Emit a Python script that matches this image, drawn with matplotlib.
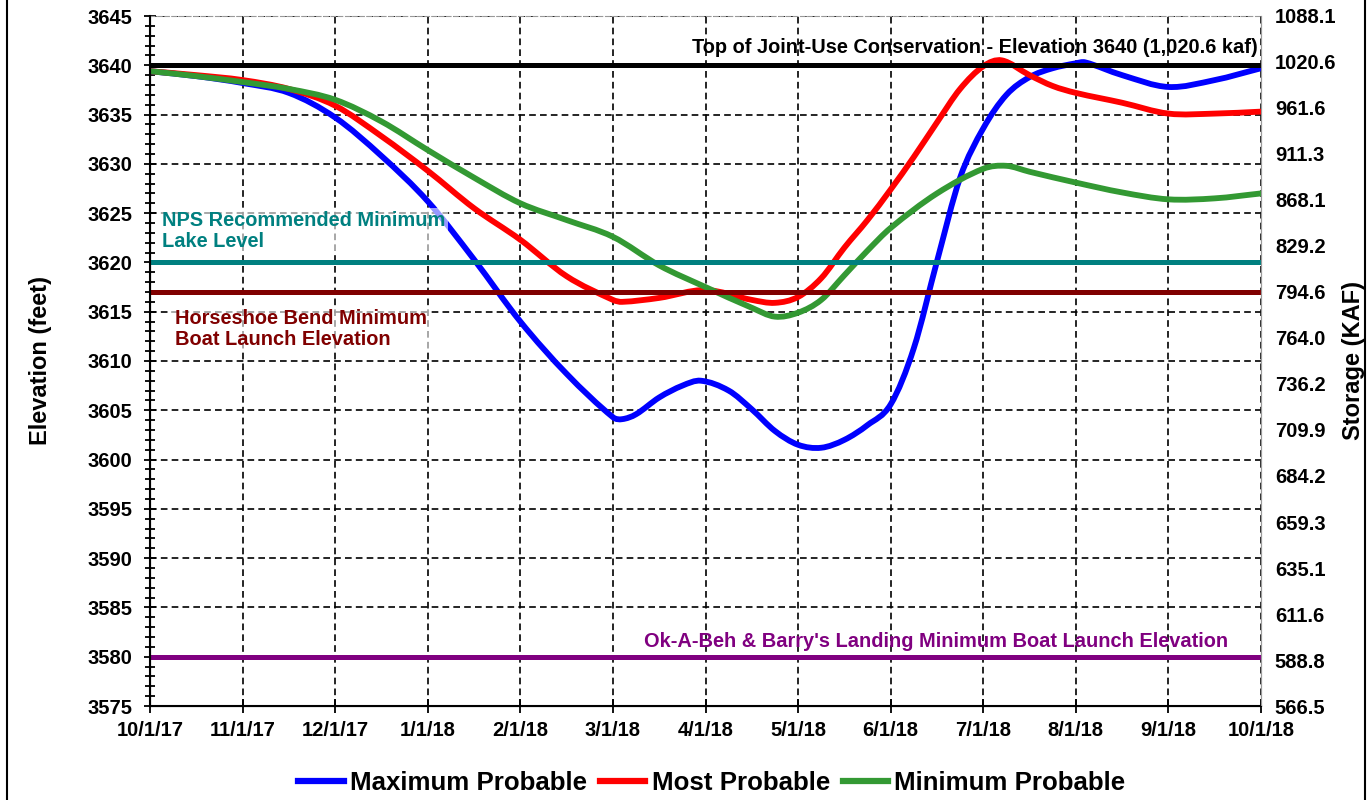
import matplotlib
matplotlib.use('Agg')
import matplotlib.pyplot as plt
from matplotlib.lines import Line2D
from matplotlib.path import Path
from matplotlib.patches import PathPatch
from matplotlib.ticker import MultipleLocator

plt.rcParams['font.family'] = ['Liberation Sans', 'DejaVu Sans']
plt.rcParams['font.weight'] = 'bold'

# month labels (evenly spaced category positions 0..12)
months = ['10/1/17', '11/1/17', '12/1/17', '1/1/18', '2/1/18', '3/1/18', '4/1/18',
          '5/1/18', '6/1/18', '7/1/18', '8/1/18', '9/1/18', '10/1/18']

# elevation readings (x = month position)
max_x = [0, 0.5, 1, 1.5, 2, 2.5, 3, 3.5, 4, 4.5, 5, 5.1, 5.25, 5.5, 5.75, 5.95, 6.25, 6.5,
         6.75, 7, 7.25, 7.5, 7.75, 8, 8.25, 8.5, 8.75, 9, 9.25, 9.5, 9.75, 10, 10.1, 10.5,
         11, 11.5, 12]
max_y = [3639.4, 3638.9, 3638.2, 3637.2, 3634.7, 3630.8, 3626.2, 3620.3, 3614.0, 3608.7,
         3604.3, 3604.1, 3604.6, 3606.3, 3607.5, 3608.0, 3607.0, 3605.1, 3602.9, 3601.5,
         3601.2, 3602.0, 3603.5, 3605.6, 3611.3, 3620.1, 3628.6, 3633.6, 3637.0, 3638.8,
         3639.7, 3640.2, 3640.3, 3639.0, 3637.8, 3638.5, 3639.7]

most_x = [0, 0.5, 1, 1.5, 2, 2.5, 3, 3.5, 4, 4.5, 5, 5.1, 5.5, 6, 6.5, 6.75, 7, 7.25, 7.5,
          7.75, 8, 8.25, 8.5, 8.75, 9, 9.2, 9.5, 9.75, 10, 10.5, 11, 11.5, 12]
most_y = [3639.4, 3639.0, 3638.5, 3637.6, 3635.9, 3632.8, 3629.3, 3625.5, 3622.3, 3618.6,
          3616.2, 3616.0, 3616.4, 3617.2, 3616.2, 3615.9, 3616.5, 3618.4, 3621.5, 3624.3,
          3627.4, 3630.7, 3634.2, 3637.6, 3639.9, 3640.5, 3639.0, 3637.9, 3637.2, 3636.2,
          3635.1, 3635.1, 3635.3]

min_x = [0, 0.5, 1, 1.5, 2, 2.5, 3, 3.5, 4, 4.5, 5, 5.5, 6, 6.5, 6.75, 7, 7.25, 7.5, 7.75,
         8, 8.5, 9, 9.25, 9.5, 10, 10.5, 11, 11.5, 12]
min_y = [3639.4, 3638.9, 3638.3, 3637.6, 3636.5, 3634.3, 3631.4, 3628.6, 3626.0, 3624.3,
         3622.6, 3619.7, 3617.5, 3615.4, 3614.5, 3614.9, 3616.2, 3618.7, 3621.2, 3623.5,
         3627.0, 3629.5, 3629.8, 3629.2, 3628.1, 3627.1, 3626.4, 3626.5, 3627.0]

# reference elevations
top_conservation = 3640
nps_minimum = 3620
horseshoe_minimum = 3617
okabeh_minimum = 3580

storage_labels = ['566.5', '588.8', '611.6', '635.1', '659.3', '684.2', '709.9', '736.2',
                  '764.0', '794.6', '829.2', '868.1', '911.3', '961.6', '1020.6', '1088.1']


def smooth_line(ax, xs, ys, color):
    # Excel-style smoothed line: cubic Bezier segments through the points
    verts = [(xs[0], ys[0])]
    codes = [Path.MOVETO]
    n = len(xs)
    for i in range(n - 1):
        x0, y0 = (xs[i - 1], ys[i - 1]) if i > 0 else (xs[i], ys[i])
        x1, y1 = xs[i], ys[i]
        x2, y2 = xs[i + 1], ys[i + 1]
        x3, y3 = (xs[i + 2], ys[i + 2]) if i + 2 < n else (x2, y2)
        h = x2 - x1
        s1 = (y2 - y0) / (x2 - x0) if x2 != x0 else 0
        s2 = (y3 - y1) / (x3 - x1) if x3 != x1 else 0
        verts += [(x1 + h / 3, y1 + s1 * h / 3), (x2 - h / 3, y2 - s2 * h / 3), (x2, y2)]
        codes += [Path.CURVE4] * 3
    ax.add_patch(PathPatch(Path(verts, codes), facecolor='none', edgecolor=color,
                           lw=4.2, capstyle='round', joinstyle='round', zorder=3))


fig = plt.figure(figsize=(13.71, 8), dpi=100)
ax = fig.add_axes([150 / 1371, 1 - 706 / 800, 1111 / 1371, 690 / 800])

smooth_line(ax, max_x, max_y, '#0000ff')
smooth_line(ax, most_x, most_y, '#ff0000')
smooth_line(ax, min_x, min_y, '#339933')

ax.axhline(top_conservation, color='black', lw=3.6, zorder=4)
ax.axhline(nps_minimum, color='#008080', lw=3.6, zorder=4)
ax.axhline(horseshoe_minimum, color='#800000', lw=3.6, zorder=4)
ax.axhline(okabeh_minimum, color='#800080', lw=3.6, zorder=4)

ax.set_xlim(0, 12)
ax.set_ylim(3575, 3645)
ax.set_xticks(range(13))
ax.set_xticklabels(months)
ax.yaxis.set_major_locator(MultipleLocator(5))
ax.yaxis.set_minor_locator(MultipleLocator(1))
ax.tick_params(axis='y', which='major', direction='inout', length=9, width=1.3,
               labelsize=14.5, pad=8)
ax.tick_params(axis='y', which='minor', direction='inout', length=7, width=1.3)
ax.tick_params(axis='x', direction='inout', length=10, width=1.3, labelsize=14.5, pad=6)
ax.grid(True, which='major', color='black', ls=(0, (4, 2.5)), lw=1.2, zorder=1)

for s in ['left', 'bottom']:
    ax.spines[s].set_linewidth(1.5)
ax.spines['top'].set_color('#999999')
ax.spines['top'].set_linestyle((0, (4, 2.5)))
ax.spines['right'].set_color('#999999')

ax.set_ylabel('Elevation (feet)', fontsize=17, fontweight='bold', labelpad=26)

ax2 = ax.twinx()
ax2.set_ylim(0, 15)
ax2.set_yticks(range(16))
ax2.set_yticklabels(storage_labels)
ax2.tick_params(axis='y', length=0, labelsize=14.5, pad=10)
ax2.spines['right'].set_color('#999999')
ax2.spines['top'].set_visible(False)
ax2.set_ylabel('Storage (KAF)', fontsize=17, fontweight='bold', labelpad=4)

ax.text(11.96, 3641.85, 'Top of Joint-Use Conservation - Elevation 3640 (1,020.6 kaf)',
        ha='right', va='center', fontsize=14.4, fontweight='bold', color='black', zorder=5)
ax.text(0.13, 3623.2, 'NPS Recommended Minimum\nLake Level', ha='left', va='center',
        fontsize=14.4, fontweight='bold', color='#008080', linespacing=1.1, zorder=5,
        bbox=dict(facecolor='white', alpha=0.6, edgecolor='none', pad=2))
ax.text(0.27, 3613.25, 'Horseshoe Bend Minimum\nBoat Launch Elevation', ha='left',
        va='center', fontsize=14.4, fontweight='bold', color='#800000', linespacing=1.1,
        zorder=5, bbox=dict(facecolor='white', alpha=0.6, edgecolor='none', pad=2))
ax.text(11.64, 3581.5, "Ok-A-Beh & Barry's Landing Minimum Boat Launch Elevation",
        ha='right', va='center', fontsize=14.4, fontweight='bold', color='#800080', zorder=5)

handles = [Line2D([], [], color='#0000ff', lw=4.5),
           Line2D([], [], color='#ff0000', lw=4.5),
           Line2D([], [], color='#339933', lw=4.5)]
fig.legend(handles, ['Maximum Probable', 'Most Probable', 'Minimum Probable'],
           loc='center', bbox_to_anchor=(712 / 1371, 1 - 783 / 800), ncol=3,
           frameon=False, handlelength=1.75, handletextpad=0.25,
           columnspacing=0.5, prop={'weight': 'bold', 'size': 18.6})

# outer border (sides)
fig.add_artist(Line2D([7 / 1371, 7 / 1371], [0, 1], color='black', lw=1.5))
fig.add_artist(Line2D([1365 / 1371, 1365 / 1371], [0, 1], color='black', lw=1.5))

fig.savefig('out.png', dpi=100)
